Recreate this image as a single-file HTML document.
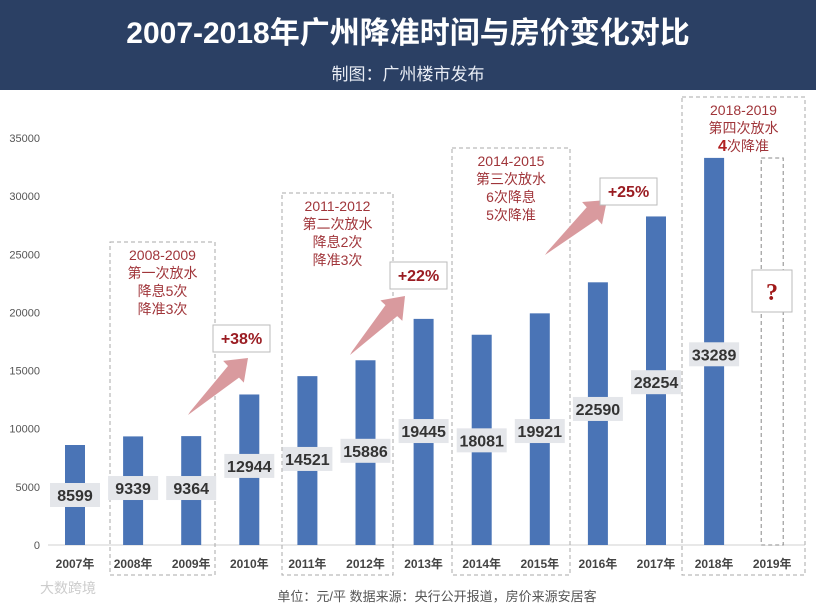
<!DOCTYPE html>
<html><head><meta charset="utf-8">
<style>
body{margin:0;width:816px;height:608px;overflow:hidden;background:#fff;font-family:"Liberation Sans","Noto Sans CJK SC",sans-serif;}
#hdr{position:absolute;left:0;top:0;width:816px;height:90px;background:#2b4064;color:#fff;text-align:center;}
#title{position:absolute;top:8px;width:100%;font-size:30px;font-weight:bold;}
#sub{position:absolute;top:60px;width:100%;font-size:17px;color:#e8ecf4;}
svg{position:absolute;left:0;top:0}
</style></head><body>
<div id="hdr">
<div id="title">2007-2018年广州降准时间与房价变化对比</div>
<div id="sub">制图：广州楼市发布</div>
</div>
<svg id="c" width="816" height="608"></svg>
<script>
const years=["2007年","2008年","2009年","2010年","2011年","2012年","2013年","2014年","2015年","2016年","2017年","2018年","2019年"];
const prices=[8599,9339,9364,12944,14521,15886,19445,18081,19921,22590,28254,33289,null];
const labelVals=[4300,4900,4900,6800,7400,8100,9800,9000,9800,11700,14000,16400];
const yTicks=[0,5000,10000,15000,20000,25000,30000,35000];
const NS="http://www.w3.org/2000/svg";
const svg=document.getElementById('c');
const y0=545,yTop=138,yMax=35000;
const yS=v=>y0-(v/yMax)*(y0-yTop);
const xS=i=>75+i*58.1;
function el(t,a,p){const e=document.createElementNS(NS,t);for(const k in a)e.setAttribute(k,a[k]);(p||svg).appendChild(e);return e;}
function tx(s,a){const e=el('text',a);e.textContent=s;return e;}
let ax=el('line',{x1:48,x2:805,y1:y0,y2:y0,stroke:'#d0d0d0','stroke-width':1});

yTicks.forEach(v=>{const t=tx(v,{x:40,y:yS(v)+4,'text-anchor':'end','font-size':11,fill:'#555'});
});
const boxes=[[110,242,215,575,["2008-2009","第一次放水","降息5次","降准3次"]],[282,193,393,575,["2011-2012","第二次放水","降息2次","降准3次"]],[452,148,570,575,["2014-2015","第三次放水","6次降息","5次降准"]],[682,97,805,575,["2018-2019","第四次放水","4次降准"]]];
boxes.forEach(b=>{const r=el('rect',{x:b[0],y:b[1],width:b[2]-b[0],height:b[3]-b[1],fill:'none',stroke:'#aaa','stroke-dasharray':'4,3'});

b[4].forEach((s,k)=>{const t=tx(s,{x:(b[0]+b[2])/2,y:b[1]+18+k*18,'text-anchor':'middle','font-size':14,fill:'#a0353a'});

if(s==="4次降准"){t.textContent='';const a=el('tspan',{'font-weight':'bold','font-size':16,fill:'#b02020'},t);a.textContent='4';const c=el('tspan',{},t);c.textContent='次降准';}});});
prices.forEach((v,i)=>{
 if(v!==null){const r=el('rect',{x:xS(i)-10,y:yS(v),width:20,height:y0-yS(v),fill:'#4a74b6'});
 }
 const t=tx(years[i],{x:xS(i),y:568,'text-anchor':'middle','font-size':12,'font-weight':'bold',fill:'#444'});
 
});
let ph=el('rect',{x:xS(12)-11,y:158,width:22,height:y0-158,fill:'#fff',stroke:'#888','stroke-dasharray':'4,3'});

let qb=el('rect',{x:752,y:270,width:40,height:42,fill:'#fff',stroke:'#bbb'});

let q=tx('?',{x:772,y:300,'text-anchor':'middle','font-size':24,'font-weight':'bold',fill:'#a01818','font-family':'Liberation Serif'});

labelVals.forEach((lv,i)=>{const cy=yS(lv);
 const r=el('rect',{x:xS(i)-25,y:cy-12,width:50,height:24,fill:'#e4e6ea'});
 
 const t=tx(prices[i],{x:xS(i),y:cy+6,'text-anchor':'middle','font-size':16,'font-weight':'bold',fill:'#333'});
 });
const arrows=[[188,415,248,358,"+38%",213,325],[350,355,405,296,"+22%",390,262],[545,255,607,200,"+25%",600,178]];
arrows.forEach(a=>{const [x1,y1,x2,y2]=a;const dx=x2-x1,dy=y2-y1,L=Math.hypot(dx,dy),ux=dx/L,uy=dy/L,nx=-uy,ny=ux;
 const bx=x2-ux*20,by=y2-uy*20;
 const pts=[[x1,y1],[bx+nx*8,by+ny*8],[bx+nx*15,by+ny*15],[x2,y2],[bx-nx*15,by-ny*15],[bx-nx*8,by-ny*8],[x1+ux*4-nx*1,y1+uy*4-ny*1]];
 const p=el('polygon',{points:pts.map(q=>q.join(',')).join(' '),fill:'#d99a9e'});
 
 const r=el('rect',{x:a[5],y:a[6],width:57,height:27,fill:'#fff',stroke:'#bbb'});
 
 const t=tx(a[4],{x:a[5]+28.5,y:a[6]+19,'text-anchor':'middle','font-size':16,'font-weight':'bold',fill:'#9a1c22'});
 });
let f=tx('单位：元/平 数据来源：央行公开报道，房价来源安居客',{x:437,y:601,'text-anchor':'middle','font-size':13,fill:'#555'});

let w=tx('大数跨境',{x:40,y:593,'font-size':14,fill:'#ccc'});

</script>
</body></html>
